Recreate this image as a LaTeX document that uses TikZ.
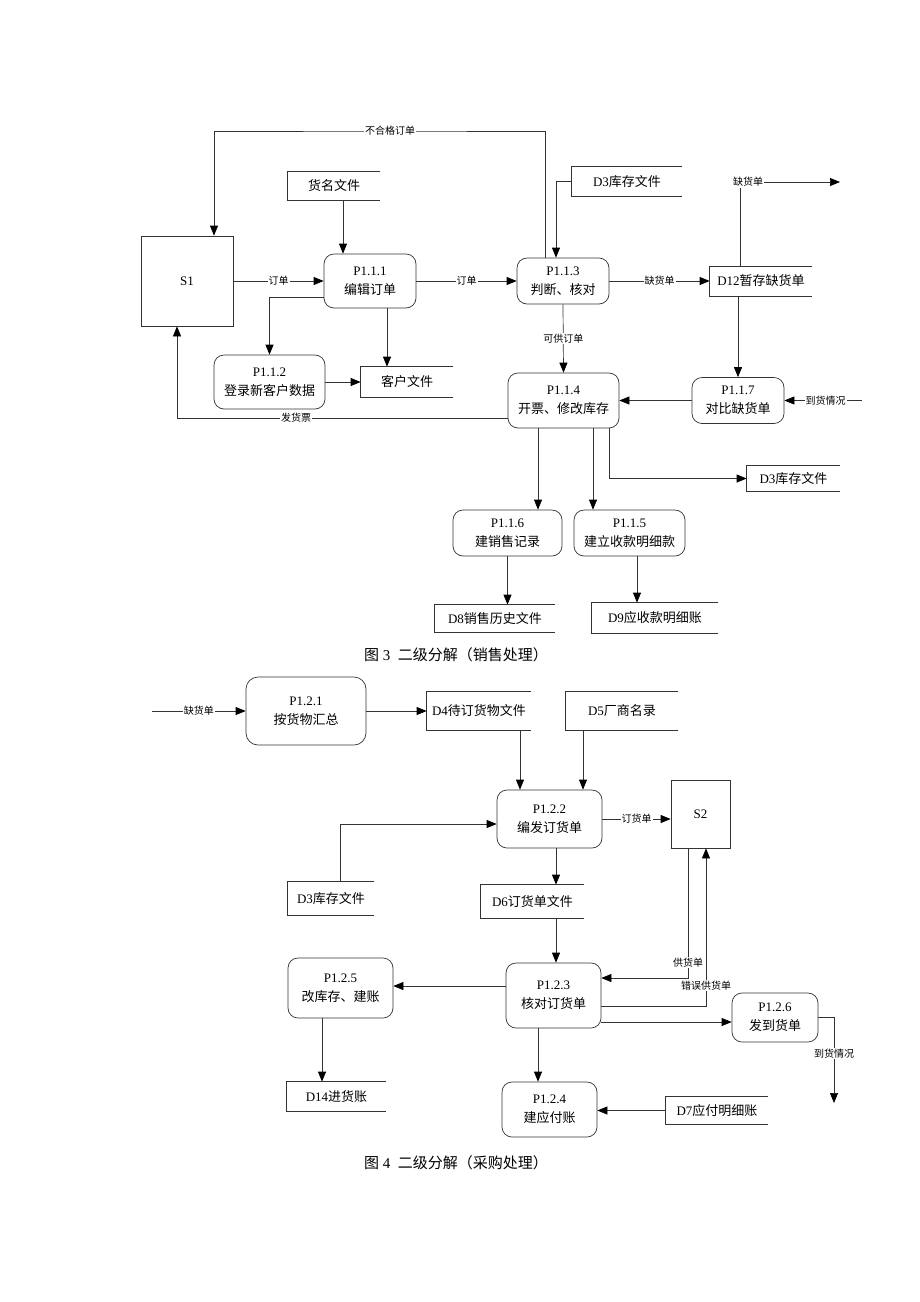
\documentclass[tikz,border=0pt]{standalone}
\usepackage{fontspec}
\setmainfont{Liberation Serif}
\newfontfamily\cjk{Noto Sans CJK SC}
\newcommand\zh[1]{{\cjk #1}}
\usetikzlibrary{arrows.meta}

\tikzset{
  proc/.style={draw=black!80, rounded corners=10pt, align=center, font=\fontsize{13}{19}\selectfont},
  ent/.style={draw=black!80, font=\fontsize{13}{16}\selectfont},
  store/.style={inner sep=0pt, font=\fontsize{13}{16}\selectfont},
  arr/.style={draw=black!80, -{Triangle[length=10pt,width=8pt,color=black]}},
  lbl/.style={fill=white, inner sep=1pt, font=\cjk\fontsize{10}{12}\selectfont},
  figcap/.style={font=\fontsize{15}{18}\selectfont}
}

\begin{document}
\begin{tikzpicture}[x=1pt, y=-1pt, line width=0.7pt]

  \useasboundingbox (0,0) rectangle (920,1302);

  % sales: entities, processes and stores
  \node[ent, minimum width=92pt, minimum height=90pt] (s1) at (187,281) {S1};
  \node[store, minimum width=92pt, minimum height=28pt] (hm) at (334,186) {\zh{货名文件}};
  \node[proc, minimum width=92pt, minimum height=54pt] (p111) at (370,281) {P1.1.1\\\zh{编辑订单}};
  \node[proc, minimum width=92pt, minimum height=46pt] (p113) at (563,281) {P1.1.3\\\zh{判断、核对}};
  \node[store, minimum width=110pt, minimum height=29pt] (d3a) at (627,181.5) {D3\zh{库存文件}};
  \node[store, minimum width=102pt, minimum height=29pt] (d12) at (761,281) {D12\zh{暂存缺货单}};
  \node[proc, minimum width=111pt, minimum height=54pt] (p112) at (269.5,382) {P1.1.2\\\zh{登录新客户数据}};
  \node[store, minimum width=92pt, minimum height=30pt] (kh) at (407,382) {\zh{客户文件}};
  \node[proc, minimum width=111pt, minimum height=55pt] (p114) at (563.5,400.5) {P1.1.4\\\zh{开票、修改库存}};
  \node[proc, minimum width=92pt, minimum height=46pt] (p117) at (738,400.5) {P1.1.7\\\zh{对比缺货单}};
  \node[store, minimum width=93pt, minimum height=25pt] (d3b) at (793.5,478.5) {D3\zh{库存文件}};
  \node[proc, minimum width=109pt, minimum height=46pt] (p116) at (507.5,533) {P1.1.6\\\zh{建销售记录}};
  \node[proc, minimum width=111pt, minimum height=46pt] (p115) at (629.5,533) {P1.1.5\\\zh{建立收款明细款}};
  \node[store, minimum width=120pt, minimum height=27pt] (d8) at (495,618.5) {D8\zh{销售历史文件}};
  \node[store, minimum width=126pt, minimum height=30pt] (d9) at (655,618) {D9\zh{应收款明细账}};
  \node[figcap] (cap3) at (456,655) {\zh{图} 3 \ \zh{二级分解（销售处理）}};

  \coordinate (top1) at (390,131);
  \coordinate (out1) at (840,182);
  \coordinate (in1) at (862,400.5);

  % sales: flows
  \draw[arr] (s1) -- node[lbl]{订单} (p111);
  \draw[arr] (p111) -- node[lbl]{订单} (p113);
  \draw[arr] (p113) -- node[lbl]{缺货单} (d12);
  \draw[arr] ([xshift=9pt]hm.south) -- ([xshift=9pt]hm.south |- p111.north);
  \draw[arr] (d3a.west) -| ([xshift=-7pt]p113.north);
  \draw[arr] ([xshift=-18pt]p113.north) |- (top1) node[lbl]{不合格订单} -| ([xshift=27pt]s1.north);
  \draw[arr] ([xshift=-21pt]d12.north) |- node[lbl, pos=0.5, xshift=8pt]{缺货单} (out1);
  \draw[arr] (p117.north |- d12.south) -- (p117.north);
  \draw[arr] (in1) -- node[lbl, pos=0.47]{到货情况} (p117.east);
  \draw[arr] (p117.west) -- (p114.east);
  \draw[arr] (p113.south) -- node[lbl]{可供订单} (p114.north);
  \draw[arr] ([yshift=-17.5pt]p114.west) -| node[lbl, pos=0.32]{发货票} ([xshift=-10pt]s1.south);
  \draw[arr] ([yshift=-16pt]p111.west) -| (p112.north);
  \draw[arr] ([xshift=17pt]p111.south) -- ([xshift=17pt]p111.south |- kh.north);
  \draw[arr] (p112.east) -- (p112.east -| kh.west);
  \draw[arr] ([xshift=-25.5pt]p114.south) -- ([xshift=-25.5pt]p114.south |- p116.north);
  \draw[arr] ([xshift=29.5pt]p114.south) -- ([xshift=29.5pt]p114.south |- p115.north);
  \draw[arr] ([xshift=45.5pt]p114.south) |- (d3b.west);
  \draw[arr] (p116.south) -- (p116.south |- d8.north);
  \draw[arr] ([xshift=7.5pt]p115.south) -- ([xshift=7.5pt]p115.south |- d9.north);

  % purchase: entities, processes and stores
  \node[proc, minimum width=120pt, minimum height=68pt, rounded corners=12pt] (p121) at (306,711) {P1.2.1\\\zh{按货物汇总}};
  \node[store, minimum width=104pt, minimum height=38pt] (d4) at (479,711) {D4\zh{待订货物文件}};
  \node[store, minimum width=112pt, minimum height=38pt] (d5) at (622,711) {D5\zh{厂商名录}};
  \node[proc, minimum width=105pt, minimum height=58pt] (p122) at (549.5,819) {P1.2.2\\\zh{编发订货单}};
  \node[ent, minimum width=59pt, minimum height=68pt] (s2) at (700.5,814) {S2};
  \node[store, minimum width=86pt, minimum height=33pt] (d3c) at (331,898.5) {D3\zh{库存文件}};
  \node[store, minimum width=103pt, minimum height=33pt] (d6) at (532.5,901.5) {D6\zh{订货单文件}};
  \node[proc, minimum width=95pt, minimum height=65pt] (p123) at (553.5,995.5) {P1.2.3\\\zh{核对订货单}};
  \node[proc, minimum width=105pt, minimum height=60pt] (p125) at (340.5,988) {P1.2.5\\\zh{改库存、建账}};
  \node[store, minimum width=99pt, minimum height=29pt] (d14) at (336.5,1096.5) {D14\zh{进货账}};
  \node[proc, minimum width=95pt, minimum height=55pt] (p124) at (549.5,1109.5) {P1.2.4\\\zh{建应付账}};
  \node[store, minimum width=102pt, minimum height=27pt] (d7) at (717,1110.5) {D7\zh{应付明细账}};
  \node[proc, minimum width=86pt, minimum height=49pt] (p126) at (775,1017.5) {P1.2.6\\\zh{发到货单}};
  \node[figcap] (cap4) at (456,1163) {\zh{图} 4 \ \zh{二级分解（采购处理）}};

  \coordinate (in2) at (152,711);
  \coordinate (out2) at (834,1103);

  % purchase: flows
  \draw[arr] (in2) -- node[lbl]{缺货单} (p121.west);
  \draw[arr] (p121.east) -- (d4.west);
  \draw[arr] ([xshift=41pt]d4.south) -- ([xshift=41pt]d4.south |- p122.north);
  \draw[arr] ([xshift=-39pt]d5.south) -- ([xshift=-39pt]d5.south |- p122.north);
  \draw[arr] (p122.east) -- node[lbl]{订货单} (p122.east -| s2.west);
  \draw[arr] ([xshift=9pt]d3c.north) |- ([yshift=-5pt]p122.west);
  \draw[arr] ([xshift=6.5pt]p122.south) -- ([xshift=6.5pt]p122.south |- d6.north);
  \draw[arr] ([xshift=23.5pt]d6.south) -- ([xshift=23.5pt]d6.south |- p123.north);
  \draw[arr] ([yshift=9.5pt]p123.west) -- ([yshift=9.5pt]p123.west -| p125.east);
  \draw[arr] ([xshift=-18.5pt]p125.south) -- ([xshift=-18.5pt]p125.south |- d14.north);
  \draw[arr] ([xshift=-15.5pt]p123.south) -- ([xshift=-15.5pt]p123.south |- p124.north);
  \draw[arr] (d7.west) -- (d7.west -| p124.east);
  \draw[arr] ([xshift=-12.5pt]s2.south) |- node[lbl, pos=0.44]{供货单} ([yshift=17.5pt]p123.east);
  \draw[arr] ([yshift=-10.5pt]p123.east) -| node[lbl, pos=0.566]{错误供货单} ([xshift=5.5pt]s2.south);
  \draw[arr] ([yshift=-26.5pt]p123.east) -- ([yshift=-26.5pt]p123.east -| p126.west);
  \draw[arr] (p126.east) -| node[lbl, pos=0.71]{到货情况} (out2);

  % open-ended data stores
  \foreach \n in {hm,d3a,d12,kh,d3b,d8,d9,d4,d5,d3c,d6,d14,d7}
    \draw[black!80] (\n.north east) -- (\n.north west) -- (\n.south west) -- (\n.south east);

\end{tikzpicture}
\end{document}
